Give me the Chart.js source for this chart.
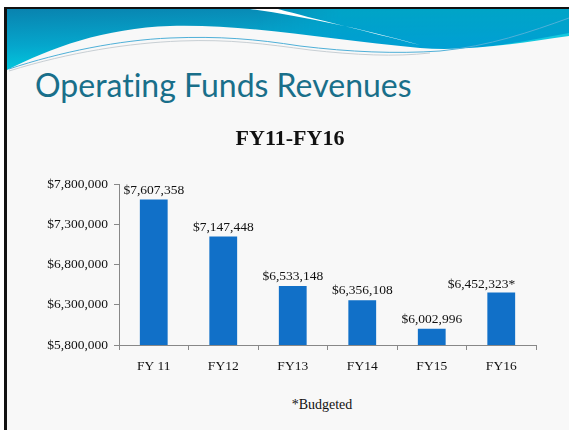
<!DOCTYPE html>
<html><head><meta charset="utf-8">
<script src="https://cdn.jsdelivr.net/npm/chart.js@4.4.1/dist/chart.umd.min.js"></script>
<style>
html,body{margin:0;padding:0;background:#fff;}
#wrap{position:relative;width:569px;height:430px;overflow:hidden;background:#fff;}
#slide{position:absolute;left:4px;top:7px;width:600px;height:440px;background:#f8f8f8;border-top:2px solid #111;border-left:3px solid #111;box-sizing:border-box;}
#hdr{position:absolute;left:0;top:0;}
#title{position:absolute;left:35px;top:69px;font-family:Lato,"Open Sans",sans-serif;font-size:32px;line-height:32px;color:#196f8a;white-space:nowrap;font-variant-ligatures:none;}
#note{position:absolute;left:222px;width:200px;top:397px;text-align:center;font-family:"Liberation Serif",serif;font-size:14px;line-height:16px;color:#111;}
#c{position:absolute;left:0;top:0;}
</style></head>
<body>
<div id="wrap">
  <div id="slide"></div>
  <svg id="hdr" width="569" height="80" viewBox="0 0 569 80">
    <defs>
      <linearGradient id="gL" x1="0" y1="0" x2="0.25" y2="1">
        <stop offset="0" stop-color="#0a7aa8"/>
        <stop offset="0.55" stop-color="#05a6cc"/>
        <stop offset="1" stop-color="#00dbe8"/>
      </linearGradient>
      <linearGradient id="gR" x1="0" y1="0" x2="0" y2="1">
        <stop offset="0" stop-color="#00a9c6"/>
        <stop offset="1" stop-color="#0095dc"/>
      </linearGradient>
      <linearGradient id="gH" x1="0" y1="0" x2="1" y2="0">
        <stop offset="0" stop-color="#fff" stop-opacity="0"/>
        <stop offset="0.45" stop-color="#fff" stop-opacity="0"/>
        <stop offset="0.6" stop-color="#fff" stop-opacity="1"/>
        <stop offset="1" stop-color="#fff" stop-opacity="1"/>
      </linearGradient>
      <mask id="mR"><rect x="0" y="0" width="569" height="80" fill="url(#gH)"/></mask>
      <clipPath id="cp"><rect x="7" y="9" width="562" height="71"/></clipPath>
    </defs>
    <g clip-path="url(#cp)">
      <rect x="0" y="0" width="569" height="80" fill="url(#gL)"/>
      <rect x="0" y="0" width="569" height="80" fill="url(#gR)" opacity="0.9" mask="url(#mR)"/>
      <path d="M300,40 C360,46 400,50 440,50 C490,49 530,40 569,33 L569,80 L300,80 Z" fill="#12c8de"/>
      <path d="M7,70 C50,48 105,28 170,26 C250,24 330,40 420,48 C470,52 525,42 569,36 L569,80 L7,80 Z" fill="#f8f8f8"/>
      <path d="M250,9 C300,16 360,28 420,45 C365,31 315,19 278,9 Z" fill="#ffffff"/>
      <path d="M9,69 C60,52 120,40 170,38 C220,36 255,39 300,46 C350,52 395,54 440,51 C490,46 530,32 569,18" fill="none" stroke="#4fb0d8" stroke-width="1"/>
      <path d="M9,71 C70,52 130,43 180,41 C230,39 265,44 310,50 C355,55 395,57 430,53" fill="none" stroke="#c8cfd4" stroke-width="1"/>
    </g>
  </svg>
  <div id="title">Operating Funds Revenues</div>
  <div id="note">*Budgeted</div>
  <canvas id="c" width="569" height="430"></canvas>
</div>
<script>
const categories = ['FY 11', 'FY12', 'FY13', 'FY14', 'FY15', 'FY16'];
const revenues = [7607358, 7147448, 6533148, 6356108, 6002996, 6452323];
const labelSuffix = ['', '', '', '', '', '*'];
const yTickValues = [5800000, 6300000, 6800000, 7300000, 7800000];

const money = v => '$' + Number(v).toLocaleString('en-US');
const serif = '"Liberation Serif", "DejaVu Serif", serif';

const valueLabels = {
  id: 'valueLabels',
  afterDatasetsDraw(chart) {
    const ctx = chart.ctx;
    const meta = chart.getDatasetMeta(0);
    ctx.save();
    ctx.font = '13.5px ' + serif;
    ctx.fillStyle = '#111';
    ctx.textBaseline = 'alphabetic';
    meta.data.forEach((bar, i) => {
      const last = i === meta.data.length - 1;
      ctx.textAlign = last ? 'right' : 'center';
      const x = last ? bar.x + bar.width / 2 : bar.x;
      ctx.fillText(money(revenues[i]) + labelSuffix[i], x, bar.y - (last ? 4 : 6));
    });
    ctx.restore();
  }
};

new Chart(document.getElementById('c'), {
  type: 'bar',
  data: {
    labels: categories,
    datasets: [{
      data: revenues,
      backgroundColor: '#1170c8',
      borderWidth: 0,
      categoryPercentage: 1,
      barPercentage: 0.4
    }]
  },
  options: {
    responsive: false,
    animation: false,
    devicePixelRatio: 1,
    layout: { padding: { left: 44, right: 33, top: 120, bottom: 45 } },
    plugins: {
      legend: { display: false },
      tooltip: { enabled: false },
      title: {
        display: true,
        text: 'FY11-FY16',
        color: '#111',
        font: { family: serif, size: 22, weight: 'bold' },
        padding: { top: 6, bottom: 31.6 }
      }
    },
    scales: {
      x: {
        grid: { offset: true, drawOnChartArea: false, drawTicks: true, tickLength: 5, color: '#888' },
        border: { color: '#888' },
        ticks: { color: '#111', font: { family: serif, size: 13.5 }, padding: 8 },
        afterFit(scale) { scale.height = 40; }
      },
      y: {
        min: 5800000,
        max: 7800000,
        afterBuildTicks(scale) { scale.ticks = yTickValues.map(v => ({ value: v })); },
        grid: { drawOnChartArea: false, drawTicks: true, tickLength: 5, color: '#888' },
        border: { color: '#888' },
        ticks: { color: '#111', font: { family: serif, size: 13.5 }, padding: 6, callback: v => money(v) },
        afterFit(scale) { scale.width = 75; }
      }
    }
  },
  plugins: [valueLabels]
});
</script>
</body></html>
